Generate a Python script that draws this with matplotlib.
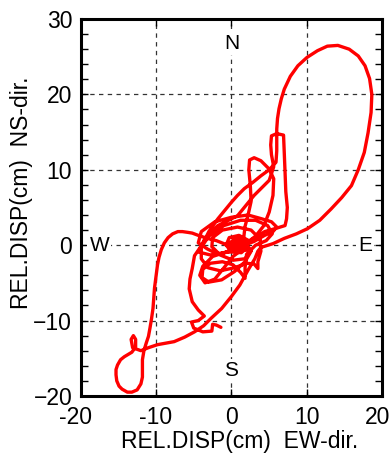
import numpy as np
import matplotlib
matplotlib.use("Agg")
import matplotlib.pyplot as plt
import matplotlib.transforms as mtransforms
from matplotlib.ticker import MultipleLocator

# relative displacement orbit (cm): EW (x) and NS (y)
ew = [0.5, 0.9, 1.3, 0.9, 0.3, 0.5, 1.2, 1.4, 0.7, 0.1, 0.6, 1.5, 1.2, 0.2, -0.2, 0.5, 1.7, 2.0, 1.3, 0.0, -0.7, -0.3, 1.0, 2.3,
      1.6, 0.8, 0.2, 0.6, 1.1, 0.8, 0.3, 0.9, 1.4, 1.0, 0.4, 0.1, 0.7, 1.6, 1.9, 1.2,
      0.2, -1.0, -2.5, -3.8, -4.2, -3.5, -2.2, -1.0, 0.2, 1.4,
      2.6, 1.8, 0.2, -1.5, -2.6, -2.5, -1.2, 0.8, 2.6, 3.8, 3.9, 3.5, 3.5, 3.0, 2.0, 0.4, -1.5, -3.1, -4.0, -4.0, -3.0, -1.0, 1.2, 3.2, 4.8, 5.4, 4.6, 3.2, 2.0, 1.8, 1.8, 1.2, 0.2, -1.2, -2.8, -3.8, -3.9, -3.0, -1.3, 0.4, 1.8, 2.6,
      1.6, 1.8, 2.2, 2.6, 2.5, 2.3, 2.4, 3.0, 3.9, 5.0, 5.6, 5.5, 5.0, 4.3, 3.2, 1.6, 0.0, -1.8, -3.2, -4.4, -4.0, -2.2, 0.0, 2.2, 4.0, 5.3, 6.0, 5.5, 4.4, 3.0, 1.0, -1.0, -2.8, -4.4,
      -3.5, -1.8, 0.8, 3.0, 5.0, 5.6, 5.3, 5.2, 5.3, 6.0, 6.9, 7.0, 7.1, 7.2, 7.4, 7.3, 7.1, 5.8, 4.4, 2.5, 0.5, -1.0,
      -2.0, -3.2, -4.4, -5.2, -5.8, -6.5, -7.1, -7.8, -8.4, -8.9, -9.3, -9.6, -9.8, -10.0, -10.2, -10.3, -10.4, -10.6, -10.8, -11.0, -11.3, -11.6, -11.8, -11.8, -11.8, -12.0, -12.5, -13.2, -13.8, -14.5, -14.9, -15.2, -15.3, -15.3, -15.1, -14.7, -14.2,
      -13.2, -12.7, -12.7, -13.0, -13.3, -13.1, -12.0, -11.0, -9.8, -8.7, -7.6, -6.2, -4.9, -3.7, -2.7, -1.3, 0.0, 1.1, 2.2, 3.1, 3.5,
      3.9, 5.5, 7.0, 8.6, 10.1, 11.7, 13.2, 14.6, 15.9, 16.8, 17.6, 18.1, 18.5, 18.6, 18.3, 17.7, 16.8, 15.6, 14.1, 12.7, 11.4, 10.0, 8.8, 7.8, 7.0, 6.6, 6.3, 6.1, 6.0, 6.0, 6.0, 5.9,
      5.0, 3.9, 2.8, 1.7, 0.8, 0.0, -0.9, -1.8, -3.0, -3.8,
      -4.9, -5.2, -5.5, -5.6, -5.2, -4.4, -3.6, -4.4, -5.3, -5.0, -3.8, -2.6, -2.5, -2.0, -1.4]
ns = [0.0, 0.5, 0.1, -0.4, -0.2, 0.5, 0.6, -0.2, -0.6, 0.1, 0.7, 0.3, -0.6, -0.5, 0.3, 0.9, 0.6, -0.4, -1.0, -0.9, 0.0, 1.0, 1.3, 0.6,
      -0.3, -0.6, 0.2, 0.8, 0.4, -0.3, 0.0, 0.9, 0.6, -0.5, -0.4, 0.4, 1.1, 0.8, -0.1, -0.8,
      -0.8, -1.0, -1.5, -2.8, -4.0, -5.0, -4.5, -3.0, -1.5, -0.6,
      -0.7, -1.8, -2.0, -1.3, -0.2, 1.0, 2.0, 2.4, 2.0, 0.8, -0.8, -2.2, -3.1, -2.5, -2.4, -3.0, -3.4, -3.0, -1.8, -0.3, 1.2, 2.6, 3.3, 3.3, 2.6, 1.5, 0.6, 0.0, -1.2, -3.0, -4.4, -3.6, -2.6, -2.2, -2.4, -3.2, -4.3, -4.9, -4.6, -3.5, -2.2, -0.8,
      0.8, 2.5, 4.0, 5.8, 7.9, 10.0, 11.3, 11.6, 11.2, 10.1, 8.8, 6.6, 4.4, 2.6, 1.2, 0.0, -0.8, -1.2, -0.5, 0.3, 1.8, 3.1, 3.7, 4.0, 3.5, 3.1, 2.4, 1.8, 1.3, 0.5, -0.3, -1.0, -1.3, -0.9,
      0.9, 2.6, 3.9, 6.6, 8.6, 10.4, 12.0, 13.3, 14.5, 14.8, 14.6, 12.3, 9.7, 7.1, 5.0, 3.5, 2.6, 2.2, 1.8, 0.6, -0.5, 0.2,
      0.6, 0.9, 1.3, 1.6, 1.7, 1.8, 1.8, 1.5, 1.0, 0.3, -0.6, -1.6, -2.6, -4.2, -5.7, -7.0, -8.4, -9.8, -11.0, -12.1, -13.0, -14.0, -15.2, -16.5, -17.5, -18.4, -19.2, -19.5, -19.5, -19.1, -18.7, -18.0, -17.2, -16.5, -15.9, -15.2, -14.8,
      -14.2, -13.5, -12.5, -12.0, -12.5, -13.6, -14.0, -13.6, -13.2, -13.0, -12.8, -12.2, -11.5, -10.7, -9.7, -8.4, -6.8, -5.3, -3.3, -1.8, -0.8,
      -0.3, 0.2, 0.9, 1.5, 2.2, 3.3, 4.8, 6.3, 7.9, 10.0, 12.3, 14.9, 17.6, 20.0, 22.1, 23.8, 25.1, 26.0, 26.5, 26.4, 25.8, 24.9, 23.8, 22.4, 20.7, 19.4, 18.1, 16.8, 15.4, 14.0, 12.5, 11.0,
      10.0, 9.2, 8.3, 7.5, 6.6, 5.7, 4.6, 3.5, 1.8, 0.2,
      -1.4, -3.1, -4.5, -5.8, -7.5, -8.6, -9.4, -10.0, -10.2, -11.0, -11.5, -11.4, -10.5, -10.6, -10.9]

compass = [("N", 0, 26.8), ("S", 0, -16.6), ("W", -17.5, 0), ("E", 17.7, 0)]
xticks = [-20, -10, 0, 10, 20]
xticklabels = ["-20", "-10", "0", "10", "20"]

plt.rcParams['font.family'] = ['Liberation Sans', 'DejaVu Sans']

fig = plt.figure(figsize=(3.91, 4.53), dpi=100)
ax = fig.add_axes([0.206, 0.126, 0.772, 0.832])

ax.plot(ew, ns, color="#ff0000", lw=2.4, solid_joinstyle="round", solid_capstyle="round", zorder=3)

ax.set_xlim(-20, 20)
ax.set_ylim(-20, 30)
ax.set_xticks(xticks)
ax.set_xticklabels(xticklabels)
ax.yaxis.set_major_locator(MultipleLocator(10))
ax.yaxis.set_minor_locator(MultipleLocator(2))

for v in [-10, 0, 10]:
    ax.axvline(v, color="0.2", lw=0.9, ls=(0, (3.5, 3.5)), zorder=1)
for v in [-10, 0, 10, 20]:
    ax.axhline(v, color="0.2", lw=0.9, ls=(0, (3.5, 3.5)), zorder=1)

ax.tick_params(axis="both", which="both", direction="in", top=True, right=True,
               length=5, width=1, labelsize=16.5, pad=6)
ax.tick_params(axis="x", pad=7)
for s in ax.spines.values():
    s.set_linewidth(2.2)

# the end labels sit a little left of their ticks in the original
shift = mtransforms.ScaledTranslation(-0.05, 0, fig.dpi_scale_trans)
labs = ax.get_xticklabels()
for lab in (labs[0], labs[-1]):
    lab.set_transform(lab.get_transform() + shift)

for lab, x, y in compass:
    ax.text(x, y, lab, ha="center", va="center", fontsize=15, zorder=2,
            bbox=dict(facecolor="white", edgecolor="none", pad=1.5))

fig.text(0.612, 0.025, "REL.DISP(cm)  EW-dir.", ha="center", va="center", fontsize=16.5)
fig.text(0.056, 0.575, "REL.DISP(cm)  NS-dir.", ha="center", va="center", rotation=90, fontsize=16.5)

fig.savefig("out.png", dpi=100)
